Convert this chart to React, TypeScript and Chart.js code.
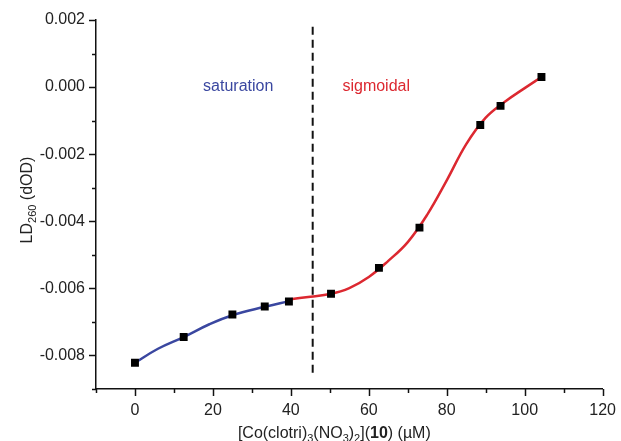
import React, { useEffect, useRef } from 'react';
import { Chart, registerables } from 'chart.js';

Chart.register(...registerables);

// ---- data ----
const concentrations = [0, 12.5, 25, 33.3, 39.5, 50.3, 62.6, 73, 88.6, 93.8, 104.3];
const ldValues = [-0.00822, -0.00745, -0.00678, -0.00654, -0.00639, -0.00616, -0.00539, -0.00419, -0.00113, -0.00056, 0.0003];

const saturationFitX = [0, 5.9, 12.5, 19.1, 25, 33.3, 39.5];
const saturationFitY = [-0.00822, -0.0078, -0.00745, -0.00707, -0.0068, -0.00655, -0.00638];

const sigmoidalFitX = [39.5, 45, 50, 55, 60, 65, 70, 75, 80, 85, 90, 95, 100, 104.3];
const sigmoidalFitY = [-0.00633, -0.00625, -0.00617, -0.00599, -0.00566, -0.00518, -0.00462, -0.0038, -0.00278, -0.0017, -0.00091, -0.00043, -0.00003, 0.0003];

const dividerX = [45.6, 45.6];
const dividerY = [0.0018, -0.0086];

const xTickValues = [-10, 0, 10, 20, 30, 40, 50, 60, 70, 80, 90, 100, 110, 120];
const yTickValues = [-0.009, -0.008, -0.007, -0.006, -0.005, -0.004, -0.003, -0.002, -0.001, 0, 0.001, 0.002];

const regionLabels = ['saturation', 'sigmoidal'];
const regionLabelX = [26.5, 61.9];
const regionLabelY = [0.0, 0.0];

const FONT = '"Liberation Sans", Arial, Helvetica, sans-serif';
const TEXT = '#222222';
const BLUE = '#3a47a0';
const RED = '#dc2830';

const zip = (xs: number[], ys: number[]) => xs.map((x, i) => ({ x, y: ys[i] }));

const decorPlugin = {
  id: 'decor',
  afterDraw(chart: any) {
    const { ctx, chartArea } = chart;
    const xs = chart.scales.x;
    const ys = chart.scales.y;
    ctx.save();
    // tick marks
    ctx.strokeStyle = '#111';
    ctx.lineWidth = 1.5;
    xTickValues.forEach((v) => {
      const px = Math.round(xs.getPixelForValue(v)) + 0.5;
      const len = v % 20 === 0 ? 7 : 4;
      ctx.beginPath();
      ctx.moveTo(px, chartArea.bottom);
      ctx.lineTo(px, chartArea.bottom + len);
      ctx.stroke();
    });
    yTickValues.forEach((v) => {
      const py = Math.round(ys.getPixelForValue(v)) + 0.5;
      const k = Math.round(v * 1000);
      const len = k % 2 === 0 ? 7 : 4;
      ctx.beginPath();
      ctx.moveTo(chartArea.left - len, py);
      ctx.lineTo(chartArea.left, py);
      ctx.stroke();
    });

    // region labels
    ctx.font = `16px ${FONT}`;
    ctx.textAlign = 'center';
    ctx.textBaseline = 'middle';
    regionLabels.forEach((t, i) => {
      ctx.fillStyle = i === 0 ? BLUE : RED;
      ctx.fillText(t, xs.getPixelForValue(regionLabelX[i]), ys.getPixelForValue(regionLabelY[i]));
    });

    // rich text helper
    type Seg = { t: string; size: number; dy: number; bold?: boolean };
    const measure = (segs: Seg[]) =>
      segs.reduce((w, s) => {
        ctx.font = `${s.bold ? 'bold ' : ''}${s.size}px ${FONT}`;
        return w + ctx.measureText(s.t).width;
      }, 0);
    const drawSegs = (segs: Seg[], cx: number, cy: number) => {
      const w = measure(segs);
      let x = cx - w / 2;
      ctx.textAlign = 'left';
      ctx.textBaseline = 'alphabetic';
      segs.forEach((s) => {
        ctx.font = `${s.bold ? 'bold ' : ''}${s.size}px ${FONT}`;
        ctx.fillText(s.t, x, cy + s.dy);
        x += ctx.measureText(s.t).width;
      });
    };
    ctx.fillStyle = TEXT;

    // x title
    const xTitle: Seg[] = [
      { t: '[Co(clotri)', size: 16, dy: 0 },
      { t: '3', size: 11, dy: 4 },
      { t: '(NO', size: 16, dy: 0 },
      { t: '3', size: 11, dy: 4 },
      { t: ')', size: 16, dy: 0 },
      { t: '2', size: 11, dy: 4 },
      { t: '](', size: 16, dy: 0 },
      { t: '10', size: 16, dy: 0, bold: true },
      { t: ') (\u00b5M)', size: 16, dy: 0 },
    ];
    drawSegs(xTitle, (chartArea.left + chartArea.right) / 2 - 15, 438);

    // y title
    const yTitle: Seg[] = [
      { t: 'LD', size: 16, dy: 0 },
      { t: '260', size: 11, dy: 4 },
      { t: ' (dOD)', size: 16, dy: 0 },
    ];
    ctx.save();
    ctx.translate(32, 200);
    ctx.rotate(-Math.PI / 2);
    drawSegs(yTitle, 0, 0);
    ctx.restore();

    ctx.restore();
  },
};

export default function App() {
  const ref = useRef<HTMLCanvasElement>(null);
  useEffect(() => {
    document.body.style.margin = '0';
    const chart = new Chart(ref.current as HTMLCanvasElement, {
      type: 'scatter',
      data: {
        datasets: [
          {
            label: 'data',
            data: zip(concentrations, ldValues),
            pointStyle: 'rect',
            pointRadius: 5.6,
            pointBackgroundColor: '#000',
            pointBorderColor: '#000',
            pointBorderWidth: 0,
            showLine: false,
            order: 0,
          },
          {
            label: 'saturation fit',
            data: zip(saturationFitX, saturationFitY),
            showLine: true,
            borderColor: BLUE,
            borderWidth: 2.5,
            pointRadius: 0,
            tension: 0.4,
            order: 2,
          },
          {
            label: 'sigmoidal fit',
            data: zip(sigmoidalFitX, sigmoidalFitY),
            showLine: true,
            borderColor: RED,
            borderWidth: 2.5,
            pointRadius: 0,
            tension: 0.4,
            order: 2,
          },
          {
            label: 'divider',
            data: zip(dividerX, dividerY),
            showLine: true,
            borderColor: '#111',
            borderWidth: 2,
            borderDash: [8, 5],
            pointRadius: 0,
            order: 3,
          },
        ],
      } as any,
      options: {
        responsive: false,
        animation: false,
        devicePixelRatio: 1,
        layout: { padding: { top: 20, right: 15, left: 0, bottom: 0 } },
        plugins: { legend: { display: false }, tooltip: { enabled: false } },
        scales: {
          x: {
            type: 'linear',
            min: -10,
            max: 120,
            afterFit: (s: any) => {
              s.height = 52;
            },
            ticks: {
              stepSize: 10,
              autoSkip: false,
              maxRotation: 0,
              padding: 5,
              color: TEXT,
              font: { family: FONT, size: 16 },
              callback: (v: any) => (Math.round(v) % 20 === 0 ? String(Math.round(v)) : ''),
            },
            grid: { drawOnChartArea: false, color: 'rgba(0,0,0,0)', tickLength: 7 },
            border: { color: '#111', width: 1.5 },
          },
          y: {
            type: 'linear',
            min: -0.009,
            max: 0.002,
            afterFit: (s: any) => {
              s.width = 96;
            },
            ticks: {
              stepSize: 0.001,
              autoSkip: false,
              padding: 4,
              color: TEXT,
              font: { family: FONT, size: 16 },
              callback: (v: any) => {
                const k = Math.round(v * 1000);
                return k % 2 === 0 ? (k / 1000).toFixed(3) : '';
              },
            },
            grid: { drawOnChartArea: false, color: 'rgba(0,0,0,0)', tickLength: 7 },
            border: { color: '#111', width: 1.5 },
          },
        },
      } as any,
      plugins: [decorPlugin],
    });
    return () => chart.destroy();
  }, []);
  return <canvas ref={ref} width={621} height={441} style={{ display: 'block' }} />;
}
